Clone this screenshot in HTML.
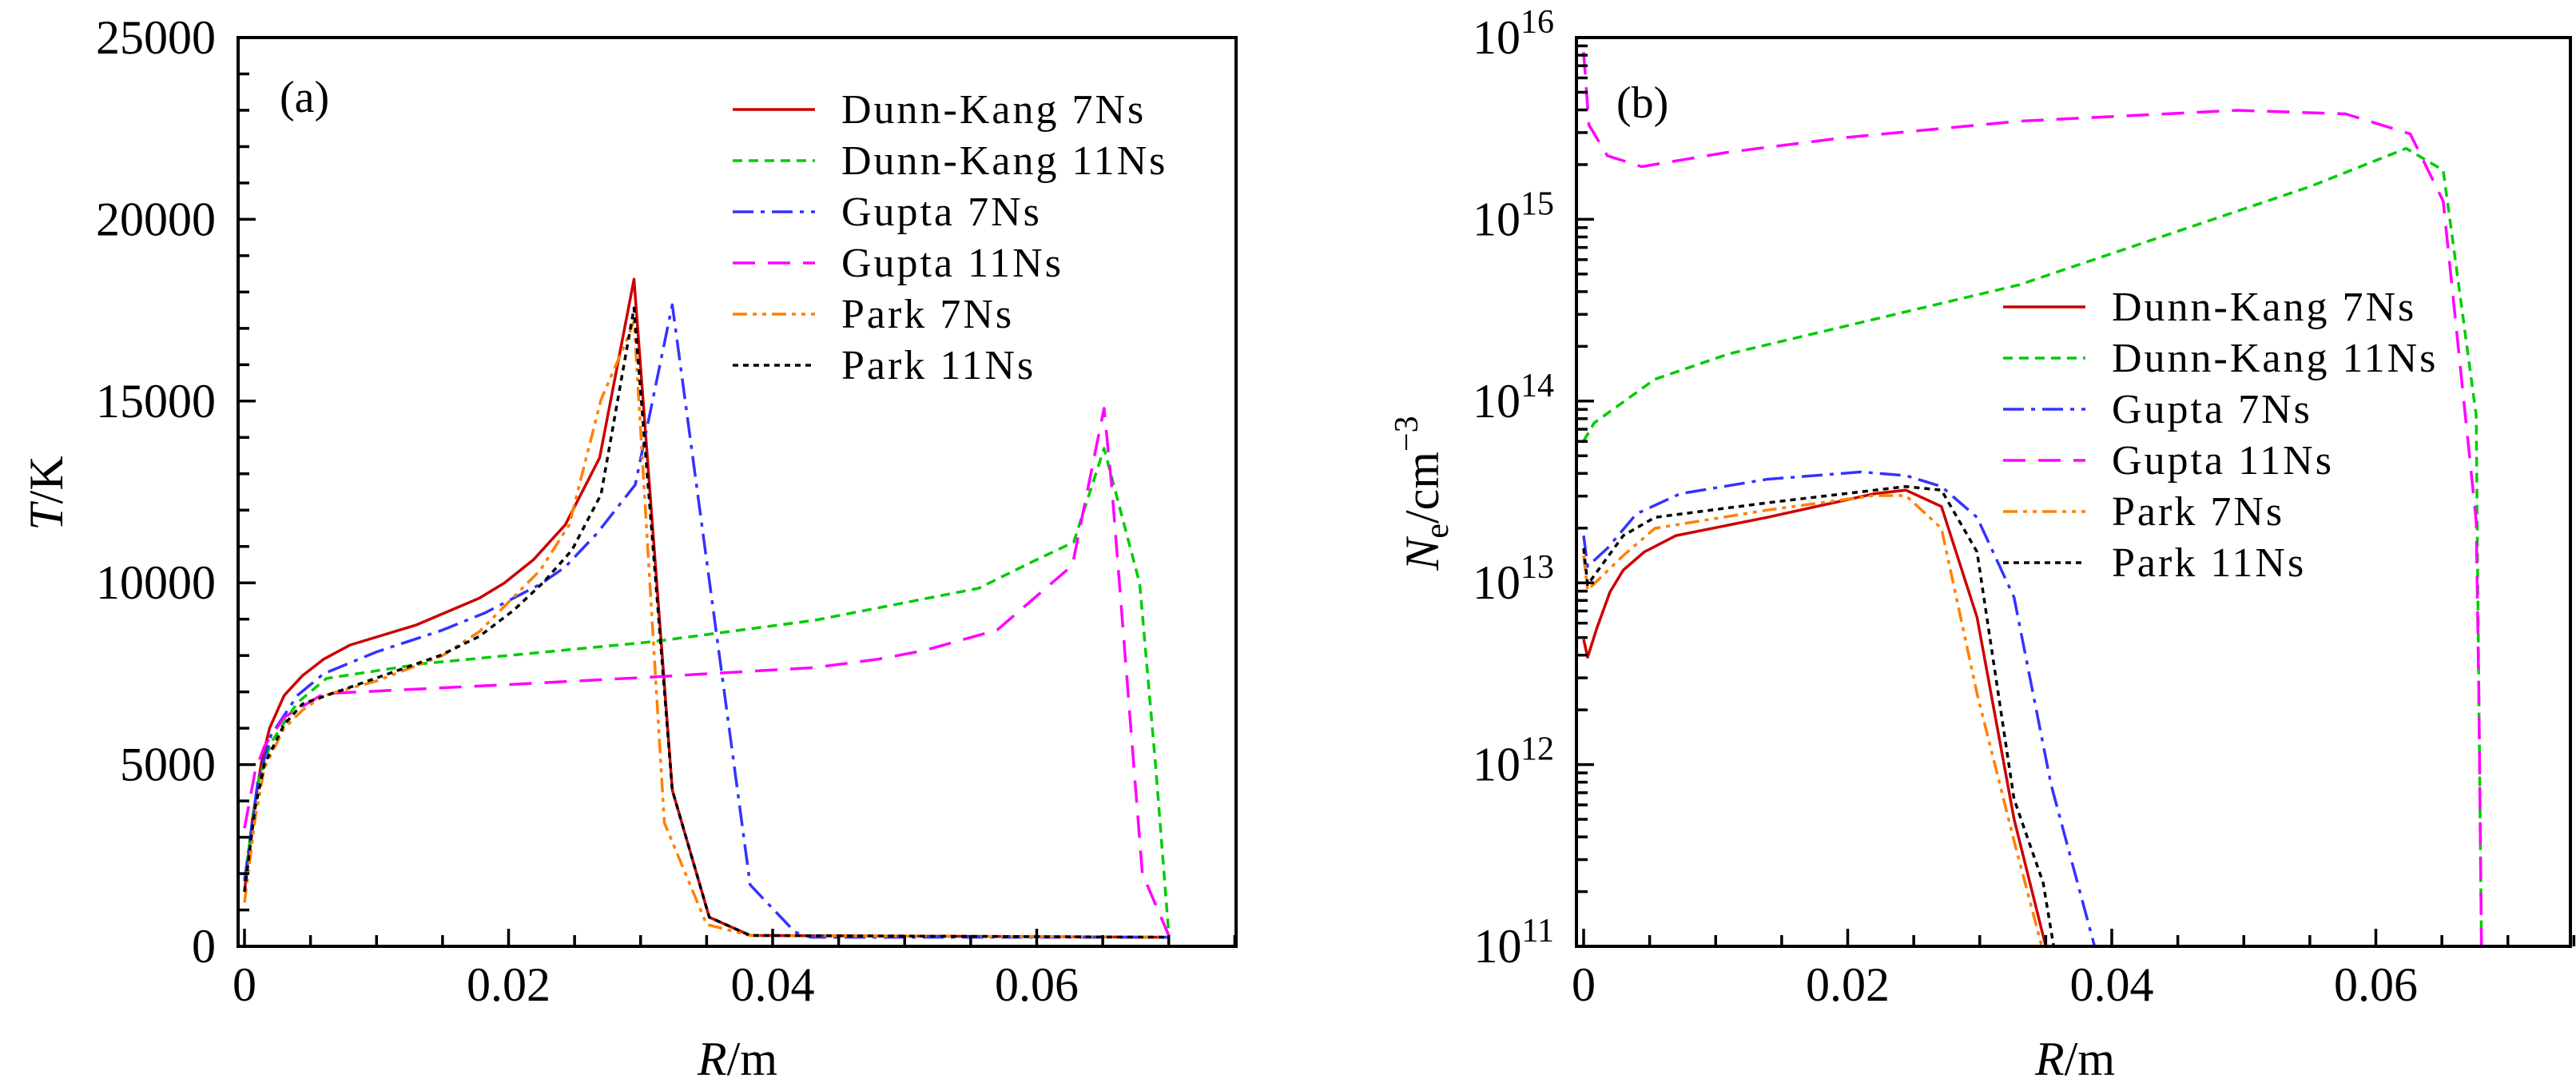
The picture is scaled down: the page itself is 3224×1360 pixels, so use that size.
<!DOCTYPE html>
<html><head><meta charset="utf-8"><style>
html,body{margin:0;padding:0;background:#fff;}
svg, svg text, svg tspan{font-family:"Liberation Serif","DejaVu Serif",serif;}
svg{display:block;}
</style></head><body>
<svg id="fig" width="3224" height="1360" viewBox="0 0 3224 1360" xmlns="http://www.w3.org/2000/svg" font-family="Liberation Serif, serif">
<defs>
<clipPath id="clipA"><rect x="298" y="47" width="1249" height="1137"/></clipPath>
<clipPath id="clipB"><rect x="1973" y="47" width="1244" height="1137"/></clipPath>
</defs>
<g id="panelA"></g>
<g id="panelB"></g>
</svg>
<script>
// ---------- Panel (a) data: T (K) vs R (m) ----------
const aDK7x = [0,0.0006,0.0013,0.0019,0.003,0.0044,0.006,0.008,0.013,0.0178,0.0197,0.0219,0.0243,0.0269,0.0295,0.0324,0.0352,0.0383,0.07];
const aDK7y = [1500,3500,5100,6000,6900,7450,7900,8290,8840,9580,10000,10640,11600,13440,18350,4300,800,300,250];
const aDK11x = [0,0.001,0.002,0.004,0.0062,0.0136,0.0309,0.0432,0.0556,0.0595,0.0628,0.0651,0.0678,0.069,0.07];
const aDK11y = [1800,4500,5600,6700,7370,7780,8380,8970,9850,10550,11120,13700,9980,5000,330];
const aG7x = [0,0.001,0.002,0.004,0.006,0.01,0.015,0.0182,0.0224,0.0243,0.0267,0.0296,0.0324,0.0383,0.0417,0.0429,0.07];
const aG7y = [1800,4500,5800,6900,7500,8100,8700,9170,9960,10440,11360,12700,17650,1690,390,250,250];
const aG11x = [0,0.0008,0.0015,0.003,0.006,0.02,0.0305,0.0432,0.048,0.0515,0.057,0.0627,0.0651,0.0657,0.068,0.07];
const aG11y = [3250,4800,5500,6300,6950,7200,7400,7670,7900,8140,8700,10480,14800,12580,2000,300];
const aP7x = [0,0.0008,0.0015,0.003,0.0044,0.006,0.01,0.015,0.0178,0.0224,0.0246,0.027,0.0288,0.0295,0.0318,0.035,0.0383,0.07];
const aP7y = [1200,3500,4900,6000,6500,6900,7300,8000,8660,10350,11600,15040,16550,17200,3400,600,300,250];
const aP11x = [0,0.0008,0.0015,0.003,0.0044,0.0062,0.0099,0.0148,0.0178,0.0204,0.0226,0.0248,0.027,0.0295,0.0324,0.0352,0.0383,0.07];
const aP11y = [1500,3800,5000,6100,6670,6900,7370,8000,8530,9250,10000,10900,12430,17560,4300,800,300,250];
const aXTicks = [0,0.02,0.04,0.06];
const aXTickLabels = ["0","0.02","0.04","0.06"];
const aYTicks = [0,5000,10000,15000,20000,25000];
const aYTickLabels = ["0","5000","10000","15000","20000","25000"];

// ---------- Panel (b) data: log10 Ne vs R (m) ----------
const bDK7x = [0,0.0003,0.001,0.002,0.003,0.0046,0.007,0.0139,0.022,0.0244,0.0271,0.0298,0.0326,0.035];
const bDK7e = [12.69,12.59,12.75,12.95,13.07,13.17,13.26,13.36,13.49,13.51,13.42,12.81,11.70,11.0];
const bDK11x = [0,0.0008,0.0054,0.011,0.022,0.033,0.044,0.055,0.0623,0.0651,0.0657,0.0676,0.0677,0.0678,0.068];
const bDK11e = [13.78,13.88,14.12,14.26,14.45,14.64,14.91,15.18,15.39,15.27,14.95,13.92,13.15,12.39,11.0];
const bG7x = [0,0.0003,0.0018,0.004,0.0073,0.0139,0.021,0.0244,0.0271,0.0298,0.0326,0.0354,0.0387];
const bG7e = [13.26,13.09,13.19,13.38,13.49,13.57,13.61,13.59,13.53,13.36,12.92,11.89,11.0];
const bG11x = [0,0.0004,0.0018,0.0044,0.011,0.0198,0.033,0.0495,0.0577,0.0626,0.0651,0.0676,0.0678,0.068];
const bG11e = [15.92,15.52,15.35,15.29,15.37,15.45,15.54,15.60,15.58,15.47,15.10,13.34,12.39,11.0];
const bP7x = [0,0.0003,0.003,0.0054,0.0139,0.022,0.0244,0.0271,0.0298,0.0326,0.0347];
const bP7e = [13.15,12.96,13.15,13.30,13.40,13.48,13.48,13.30,12.39,11.58,11.0];
const bP11x = [0,0.0003,0.003,0.0054,0.0139,0.0244,0.0271,0.0298,0.0326,0.0348,0.0356];
const bP11e = [13.19,12.99,13.26,13.36,13.44,13.53,13.51,13.17,11.81,11.35,11.0];
const bXTicks = [0,0.02,0.04,0.06];
const bXTickLabels = ["0","0.02","0.04","0.06"];
const bYTicks = [11,12,13,14,15,16];
const bYTickLabels = ["11","12","13","14","15","16"];

const seriesNames = ["Dunn-Kang 7Ns","Dunn-Kang 11Ns","Gupta 7Ns","Gupta 11Ns","Park 7Ns","Park 11Ns"];
const NS = "http://www.w3.org/2000/svg";
const FONT = "Liberation Serif, serif";
const styles = [
 {c:"#cc0000",d:""},
 {c:"#00cc00",d:"12 8"},
 {c:"#3333ff",d:"26 9 5 9"},
 {c:"#ff00ff",d:"28 16"},
 {c:"#ff8000",d:"18 7 5 7 5 7"},
 {c:"#000000",d:"7 6"}
];
const slugs = ["dunn-kang-7ns","dunn-kang-11ns","gupta-7ns","gupta-11ns","park-7ns","park-11ns"];

function mk(tag, attrs, parent){const e=document.createElementNS(NS,tag);for(const k in attrs)e.setAttribute(k,attrs[k]);if(tag==="text")e.setAttribute("font-family",FONT);parent.appendChild(e);return e;}

const TOP=47, BOT=1184;
const axA = {x:v=>306+v*16525, y:v=>BOT-(v/25000)*(BOT-TOP), L:298, R:1547};
const axB = {x:v=>1982+v*16525, y:e=>BOT-((e-11)/5)*(BOT-TOP), L:1973, R:3217};

function frame(g, ax, nm){
  const r=mk("rect",{x:ax.L,y:TOP,width:ax.R-ax.L,height:BOT-TOP,fill:"none",stroke:"#000","stroke-width":4},g);
  
  
}
function xticks(g, ax, ticks, labels, nm){
  for(let v=0; v<=0.0751; v+=0.005){
    const X=ax.x(v); const major = Math.abs((v/0.02)-Math.round(v/0.02))<1e-6;
    const t=mk("line",{x1:X,x2:X,y1:BOT,y2:BOT-(major?22:14),stroke:"#000","stroke-width":3.5},g);
    
    
  }
  ticks.forEach((v,i)=>{
    const t=mk("text",{x:ax.x(v),y:1252,"font-size":60,"text-anchor":"middle"},g);
    t.textContent=labels[i];
    
    
  });
}
function drawSeries(g, ax, xs, ys, i, clip, nm){
  const p=xs.map((x,k)=>(k?"L":"M")+ax.x(x).toFixed(1)+","+ax.y(ys[k]).toFixed(1)).join(" ");
  const el=mk("path",{d:p,fill:"none",stroke:styles[i].c,"stroke-width":3.5,"stroke-linejoin":"round","clip-path":"url(#"+clip+")"},g);
  if(styles[i].d) el.setAttribute("stroke-dasharray",styles[i].d);
  
  
}
function legend(g, x0, y0, nm){
  seriesNames.forEach((s,i)=>{
    const y=y0+i*64;
    const l=mk("line",{x1:x0,x2:x0+103,y1:y,y2:y,stroke:styles[i].c,"stroke-width":3.5},g);
    if(styles[i].d) l.setAttribute("stroke-dasharray",styles[i].d);
    
    
    const t=mk("text",{x:x0+136,y:y+17,"font-size":52,"letter-spacing":"3"},g);
    t.textContent=s;
    
    
  });
}

// ----- Panel A -----
const gA=document.getElementById("panelA");
[[aDK7x,aDK7y],[aDK11x,aDK11y],[aG7x,aG7y],[aG11x,aG11y],[aP7x,aP7y],[aP11x,aP11y]].forEach((s,i)=>drawSeries(gA,axA,s[0],s[1],i,"clipA","panel-a"));
frame(gA,axA,"panel-a");
for(let v=0; v<=25000; v+=1000){
  const Y=axA.y(v); const major=v%5000===0;
  const t=mk("line",{x1:axA.L,x2:axA.L+(major?22:14),y1:Y,y2:Y,stroke:"#000","stroke-width":3.5},gA);
  
  
}
aYTicks.forEach((v,i)=>{
  const t=mk("text",{x:270,y:axA.y(v)+20,"font-size":60,"text-anchor":"end"},gA);
  t.textContent=aYTickLabels[i];
  
  
});
xticks(gA,axA,aXTicks,aXTickLabels,"panel-a");
legend(gA,917,137,"panel-a");
{
 const t=mk("text",{x:350,y:140,"font-size":56},gA);t.textContent="(a)";
 
 
 const yl=mk("text",{x:0,y:0,"font-size":60,"text-anchor":"middle",transform:"translate(78,617) rotate(-90)"},gA);
 yl.innerHTML='<tspan font-style="italic">T</tspan>/K';
 
 
 const xl=mk("text",{x:923,y:1345,"font-size":60,"text-anchor":"middle"},gA);
 xl.innerHTML='<tspan font-style="italic">R</tspan>/m';
 
 
}

// ----- Panel B -----
const gB=document.getElementById("panelB");
[[bDK7x,bDK7e],[bDK11x,bDK11e],[bG7x,bG7e],[bG11x,bG11e],[bP7x,bP7e],[bP11x,bP11e]].forEach((s,i)=>drawSeries(gB,axB,s[0],s[1],i,"clipB","panel-b"));
frame(gB,axB,"panel-b");
for(let d=11; d<16; d++){
  for(let m=1; m<=9; m++){
    const Y=axB.y(d+Math.log10(m));
    const t=mk("line",{x1:axB.L,x2:axB.L+(m===1?22:14),y1:Y,y2:Y,stroke:"#000","stroke-width":3.5},gB);
    
    
  }
}
{
 const t=mk("line",{x1:axB.L,x2:axB.L+22,y1:axB.y(16),y2:axB.y(16),stroke:"#000","stroke-width":3.5},gB);
 
 
}
bYTicks.forEach((v,i)=>{
  const t=mk("text",{x:1945,y:axB.y(v)+20,"font-size":60,"text-anchor":"end"},gB);
  t.innerHTML='10<tspan font-size="42" dy="-26">'+bYTickLabels[i]+'</tspan>';
  
  
});
xticks(gB,axB,bXTicks,bXTickLabels,"panel-b");
legend(gB,2507,384,"panel-b");
{
 const t=mk("text",{x:2023,y:147,"font-size":56},gB);t.textContent="(b)";
 
 
 const yl=mk("text",{x:0,y:0,"font-size":60,"text-anchor":"middle",transform:"translate(1800,617) rotate(-90)"},gB);
 yl.innerHTML='<tspan font-style="italic">N</tspan><tspan font-size="42" dy="12">e</tspan><tspan dy="-12">/cm</tspan><tspan font-size="42" dy="-26">−3</tspan>';
 
 
 const xl=mk("text",{x:2597,y:1345,"font-size":60,"text-anchor":"middle"},gB);
 xl.innerHTML='<tspan font-style="italic">R</tspan>/m';
 
 
}
</script>
</body></html>
